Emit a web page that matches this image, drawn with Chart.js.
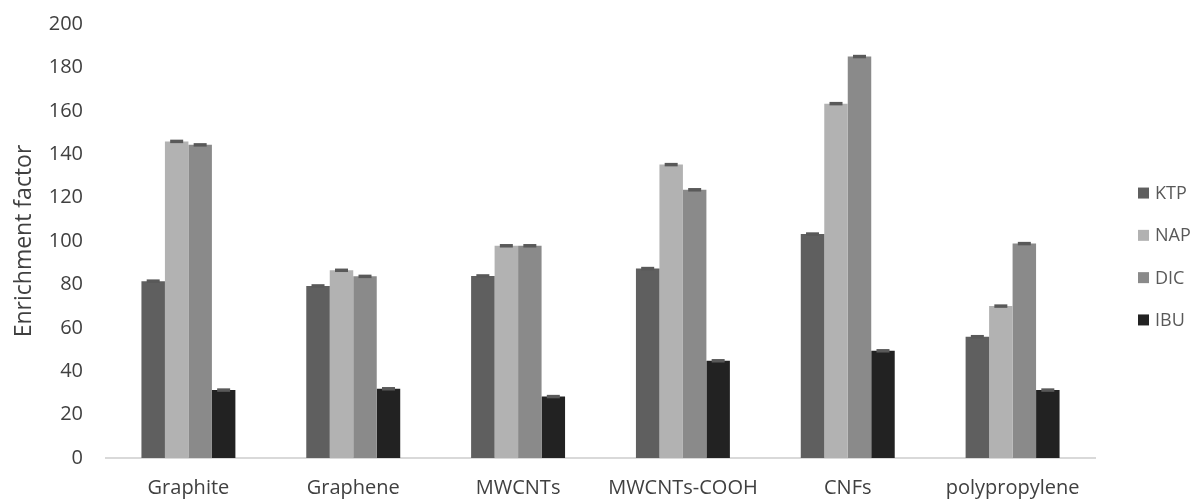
<!DOCTYPE html>
<html>
<head>
<meta charset="utf-8">
<script src="https://cdn.jsdelivr.net/npm/chart.js@4/dist/chart.umd.min.js"></script>
<style>
  html, body { margin: 0; padding: 0; background: #ffffff; }
  #wrap { width: 1197px; height: 504px; position: relative; }
</style>
</head>
<body>
<div id="wrap"><canvas id="c" width="1197" height="504"></canvas></div>
<script>
// ---- Data ----
const categories = ["Graphite", "Graphene", "MWCNTs", "MWCNTs-COOH", "CNFs", "polypropylene"];
const seriesNames = ["KTP", "NAP", "DIC", "IBU"];
const ktp = [81.5, 79.3, 83.9, 87.3, 103.2, 55.9];
const nap = [145.9, 86.5, 97.8, 135.2, 163.3, 70.0];
const dic = [144.3, 83.7, 97.8, 123.6, 185.0, 98.8];
const ibu = [31.3, 31.9, 28.3, 44.8, 49.4, 31.3];
const ktpErr = [0.8, 0.8, 0.8, 0.8, 0.8, 0.8];
const napErr = [0.8, 0.8, 0.8, 0.8, 0.8, 0.8];
const dicErr = [0.8, 0.8, 0.8, 0.8, 0.8, 0.8];
const ibuErr = [0.8, 0.8, 0.8, 0.8, 0.8, 0.8];
const yTicksMin = 0, yTicksMax = 200, yTickStep = 20;
const yTitle = "Enrichment factor";

const colors = ["#5f5f5f", "#b2b2b2", "#8a8a8a", "#222222"];
const values = [ktp, nap, dic, ibu];
const errors = [ktpErr, napErr, dicErr, ibuErr];

const FONT = "'Open Sans', 'DejaVu Sans', sans-serif";
const TEXT = "#404040";

const errorBarPlugin = {
  id: 'errorBars',
  afterDatasetsDraw(chart) {
    const ctx = chart.ctx;
    const ys = chart.scales.y;
    ctx.save();
    chart.data.datasets.forEach((ds, di) => {
      const meta = chart.getDatasetMeta(di);
      meta.data.forEach((el, i) => {
        const v = ds.data[i], e = ds.errors[i];
        const yTop = ys.getPixelForValue(v + e);
        const yBot = ys.getPixelForValue(v - e);
        const capW = 13;
        ctx.fillStyle = "#595959";
        ctx.fillRect(el.x - capW / 2, yTop, capW, Math.max(2, yBot - yTop));
      });
    });
    ctx.restore();
  }
};

const legendPlugin = {
  id: 'sideLegend',
  afterDraw(chart) {
    const ctx = chart.ctx;
    const area = chart.chartArea;
    const step = 42.3;
    const n = chart.data.datasets.length;
    const cy = (area.top + area.bottom) / 2 + 15.5;
    const startY = cy - step * (n - 1) / 2;
    ctx.save();
    ctx.font = "18px " + FONT;
    ctx.textBaseline = "middle";
    ctx.textAlign = "left";
    chart.data.datasets.forEach((ds, i) => {
      const y = startY + i * step;
      ctx.fillStyle = ds.backgroundColor;
      ctx.fillRect(1138, y - 5.5, 11, 11);
      ctx.fillStyle = "#595959";
      ctx.fillText(ds.label, 1155, y + 1);
    });
    ctx.restore();
  }
};

new Chart(document.getElementById('c'), {
  type: 'bar',
  data: {
    labels: categories,
    datasets: seriesNames.map((name, i) => ({
      label: name,
      data: values[i],
      errors: errors[i],
      backgroundColor: colors[i],
      borderWidth: 0,
      barPercentage: 1.0,
      categoryPercentage: 0.57
    }))
  },
  options: {
    responsive: false,
    animation: false,
    devicePixelRatio: 1,
    layout: { padding: { top: 24, right: 102, bottom: 0, left: 0 } },
    plugins: {
      legend: { display: false },
      tooltip: { enabled: false }
    },
    scales: {
      x: {
        grid: { display: false, drawTicks: false },
        border: { display: true, color: "#d9d9d9", width: 2 },
        ticks: { color: TEXT, font: { family: FONT, size: 20 }, padding: 18, maxRotation: 0, autoSkip: false },
        afterFit(scale) { scale.height = 46; }
      },
      y: {
        min: yTicksMin, max: yTicksMax,
        grid: { display: false, drawTicks: false },
        border: { display: false },
        ticks: { stepSize: yTickStep, color: TEXT, font: { family: FONT, size: 20 }, padding: 23 },
        title: { display: true, text: yTitle, color: TEXT, font: { family: FONT, size: 23 }, padding: 11 },
        afterFit(scale) { scale.width = 106; scale.paddingTop = 0; scale.paddingBottom = 0; }
      }
    }
  },
  plugins: [errorBarPlugin, legendPlugin]
});
</script>
</body>
</html>
